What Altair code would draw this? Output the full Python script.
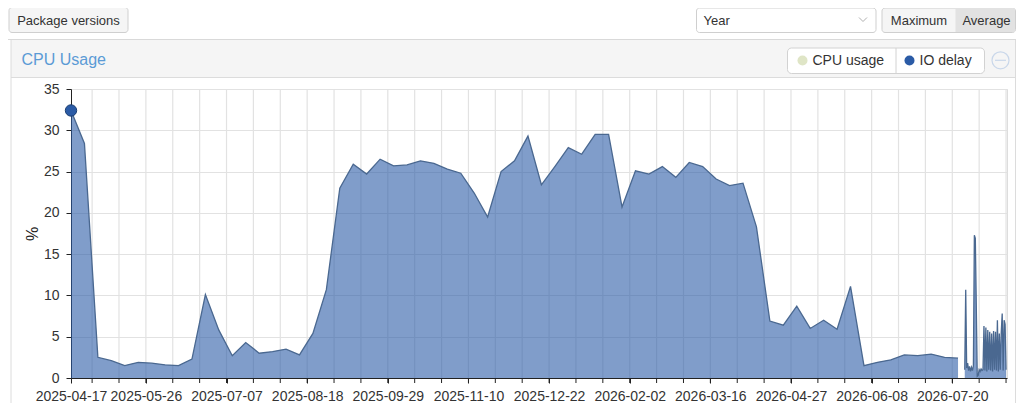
import altair as alt
import pandas as pd
from datetime import date, timedelta

# ---------------- data ----------------
SERIES = ["CPU usage", "IO delay"]
SERIES_COLORS = ["#dfe5c6", "#2b5ba6"]

# weekly averages (%), one per week starting 2025-04-17
WEEKLY_START = "2025-04-17"
weekly_values = [32.4, 28.4, 2.5, 2.1, 1.5, 1.9, 1.8, 1.6, 1.5, 2.3,
                 10.1, 5.8, 2.7, 4.3, 3.0, 3.2, 3.5, 2.8, 5.4, 10.7,
                 23.0, 25.9, 24.7, 26.5, 25.7, 25.8, 26.3, 26.0, 25.3, 24.8,
                 22.4, 19.5, 25.0, 26.3, 29.3, 23.4, 25.6, 27.9, 27.1, 29.5,
                 29.5, 20.7, 25.1, 24.7, 25.6, 24.3, 26.1, 25.6, 24.1, 23.3,
                 23.6, 18.3, 6.9, 6.4, 8.7, 6.0, 7.0, 5.9, 11.1, 1.5,
                 1.9, 2.2, 2.8, 2.7, 2.9, 2.5, 2.4]

# recent fine-grained samples (%), every 12 hours from 2026-07-26 12:00
RECENT_START = "2026-07-26 12:00"
recent_values = [1.0, 10.7, 1.2, 1.8, 0.9, 1.4, 0.8, 1.3, 0.9, 1.5,
                 17.3, 16.9, 8.8, 0.2, 0.3, 1.0, 0.8, 1.1, 0.9, 1.0,
                 6.3, 0.9, 6.1, 0.8, 5.8, 1.0, 5.6, 0.9, 5.4, 0.8,
                 5.7, 1.0, 5.6, 0.9, 7.0, 0.8, 5.4, 1.0, 5.5, 7.8,
                 0.9, 7.0, 6.5, 1.0]

X_LABELS = ["2025-04-17", "2025-05-26", "2025-07-07", "2025-08-18",
            "2025-09-29", "2025-11-10", "2025-12-22", "2026-02-02",
            "2026-03-16", "2026-04-27", "2026-06-08", "2026-07-20"]
Y_TICKS = [0, 5, 10, 15, 20, 25, 30, 35]

weekly_t = pd.date_range(WEEKLY_START, periods=len(weekly_values), freq="7D")
recent_t = pd.date_range(RECENT_START, periods=len(recent_values), freq="12h")
df = pd.concat([
    pd.DataFrame({"time": weekly_t.strftime("%Y-%m-%dT%H:%M:%S"),
                  "value": weekly_values, "seg": "weekly",
                  "k": range(len(weekly_values))}),
    pd.DataFrame({"time": recent_t.strftime("%Y-%m-%dT%H:%M:%S"),
                  "value": recent_values, "seg": "recent",
                  "k": range(1000, 1000 + len(recent_values))}),
])
df["series"] = "IO delay"

# two-weekly tick/grid dates from 2025-04-28
tick_dates = [date(2025, 4, 28) + timedelta(days=14 * j) for j in range(35)]
grid_df = pd.DataFrame({"t": [d.strftime("%Y-%m-%dT00:00:00") for d in tick_dates]})
label_values = []
for s in X_LABELS:
    yy, mm, dd = (int(p) for p in s.split("-"))
    label_values.append(alt.DateTime(year=yy, month=mm, date=dd))

FONT = "Liberation Sans"
OX, OY = 71, 89  # page position of plot origin
PW, PH = 936, 289
ONE = alt.Data(values=[{"d": 0}])


def rect(x1, y1, x2, y2, fill, stroke=None, radius=0, sw=1):
    kw = dict(fill=fill, cornerRadius=radius)
    if stroke:
        kw.update(stroke=stroke, strokeWidth=sw)
    else:
        kw.update(strokeWidth=0)
    return alt.Chart(ONE).mark_rect(**kw).encode(
        x=alt.value(x1 - OX), x2=alt.value(x2 - OX),
        y=alt.value(y1 - OY), y2=alt.value(y2 - OY))


def rule(x1, y1, x2, y2, color, sw=1):
    return alt.Chart(ONE).mark_rule(color=color, strokeWidth=sw).encode(
        x=alt.value(x1 - OX), x2=alt.value(x2 - OX),
        y=alt.value(y1 - OY), y2=alt.value(y2 - OY))


def text(s, x, y, size=13, color="#333333", align="center"):
    return alt.Chart(ONE).mark_text(text=s, font=FONT, fontSize=size, color=color,
                                    align=align, baseline="middle").encode(
        x=alt.value(x - OX), y=alt.value(y - OY))


deco = [
    rule(8, 39.5, 1016, 39.5, "#d9d9d9"),
    # toolbar
    rect(9, 7.5, 128, 32.5, "#f5f5f5", "#cfcfcf", 3),
    text("Package versions", 68.5, 20.5),
    rect(696.5, 8, 876, 32.5, "#ffffff", "#cfcfcf", 3),
    text("Year", 703.5, 20.5, align="left"),
    rule(859, 17.5, 863, 21.5, "#b0b0b0"),
    rule(863, 21.5, 867, 17.5, "#b0b0b0"),
    rect(882, 8, 1015.5, 32.5, "#f5f5f5", "#cfcfcf", 3),
    rect(955.5, 8.5, 1015, 32, "#e2e2e2"),
    text("Maximum", 919, 20.5),
    text("Average", 986.5, 20.5),
    # panel
    rect(11, 40, 1015.5, 77.5, "#f5f5f5"),
    rule(11, 77.5, 1015.5, 77.5, "#dcdcdc"),
    rule(11, 40, 11, 404, "#dcdcdc"),
    rule(1015.5, 40, 1015.5, 404, "#dcdcdc"),
    # legend box
    rect(787.5, 48, 984.5, 73.5, "#ffffff", "#d2d2d2", 4),
    rule(896, 48, 896, 73.5, "#d2d2d2"),
    # collapse icon
    alt.Chart(ONE).mark_point(shape="circle", size=289, filled=False,
                              stroke="#c9d7ea", strokeWidth=1.2, opacity=1).encode(
        x=alt.value(1000.5 - OX), y=alt.value(60.3 - OY)),
    rule(995, 60.3, 1006, 60.3, "#c9d7ea", 1.2),
]

x_scale = alt.Scale(domain=[alt.DateTime(year=2025, month=4, date=17),
                            alt.DateTime(year=2026, month=8, date=17, hours=12)])
x_enc = alt.X(
    "time:T", title=None, scale=x_scale,
    axis=alt.Axis(values=label_values, format="%Y-%m-%d", tickSize=5, labelPadding=6,
                  labelFontSize=14, labelColor="#333333", labelFont=FONT,
                  domainColor="#222222", tickColor="#222222", grid=False,
                  labelOverlap=False, labelFlush=False))
y_enc = alt.Y(
    "value:Q", stack=False,
    scale=alt.Scale(domain=[0, 35], nice=False),
    axis=alt.Axis(values=Y_TICKS, title="%", tickSize=5, labelPadding=7,
                  labelFontSize=14, labelColor="#333333", labelFont=FONT,
                  titleFontSize=16, titleFontWeight="normal", titleColor="#222222",
                  titleFont=FONT, titlePadding=3,
                  domainColor="#222222", tickColor="#222222", gridColor="#e2e2e2",
                  gridWidth=1.2))

grid = alt.Chart(grid_df).mark_rule(color="#e2e2e2", strokeWidth=1.2).encode(
    x=alt.X("t:T", scale=x_scale))
minor_ticks = alt.Chart(grid_df).mark_rule(color="#222222", strokeWidth=1).encode(
    x=alt.X("t:T", scale=x_scale), y=alt.value(PH), y2=alt.value(PH + 5))

base = alt.Chart(df)
area = base.mark_area(fillOpacity=0.6, strokeWidth=0, interpolate="linear").encode(
    x=x_enc, y=y_enc,
    color=alt.Color("series:N",
                    scale=alt.Scale(domain=SERIES, range=SERIES_COLORS),
                    legend=alt.Legend(title=None, orient="none", direction="horizontal",
                                      legendX=795.5 - OX, legendY=53.5 - OY,
                                      symbolType="circle", symbolSize=100,
                                      symbolStrokeWidth=0, symbolOpacity=1,
                                      labelFontSize=14, labelColor="#333333",
                                      labelFont=FONT, labelOffset=3,
                                      columnPadding=18, padding=0)),
    detail="seg:N",
)
line = base.mark_line(color="#4a6890", strokeWidth=1.3).encode(
    x="time:T", y="value:Q", detail="seg:N")
marker = base.transform_filter("datum.k == 0").mark_circle(
    size=130, color="#2b5ba6", stroke="#1c3f72", strokeWidth=1, opacity=1).encode(
    x="time:T", y="value:Q")

chart = alt.layer(*deco, grid, area, line, minor_ticks, marker).properties(
    width=PW, height=PH,
    autosize=alt.AutoSizeParams(type="none"),
    padding={"left": 63, "top": 81, "right": 9, "bottom": 25},
    title=alt.TitleParams("CPU Usage", anchor="start", frame="group", dx=-49.5,
                          dy=69, offset=0, fontSize=16, font=FONT,
                          fontWeight="normal", color="#5b9bd5", baseline="middle",
                          zindex=1),
).configure_view(strokeWidth=0).configure(font=FONT, background="#ffffff")

chart.save("out.html", embed_options={"renderer": "svg", "actions": False})
